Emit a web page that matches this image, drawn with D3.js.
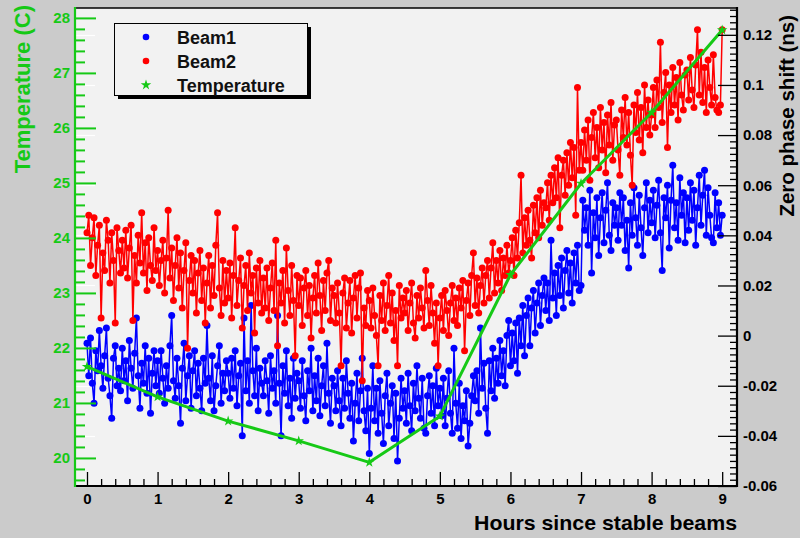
<!DOCTYPE html>
<html>
<head>
<meta charset="utf-8">
<script src="https://cdn.jsdelivr.net/npm/d3@7"></script>
<style>
  html, body { margin: 0; padding: 0; background: #cbcbcb; }
  svg { display: block; font-family: "Liberation Sans", Arial, Helvetica, sans-serif; }
</style>
</head>
<body>
<svg id="chart" width="800" height="538"></svg>
<script>
// Run window: samples are evenly spaced from stable beams (0 h) to 9 h.
const runStartHour = 0;
const runEndHour = 9;

// Zero phase shift per sample (ns)
const beam1 = [
  -0.003,-0.016,-0.001,-0.019,-0.027,-0.006,-0.014,0.002,-0.012,-0.021,-0.008,0.003,-0.017,-0.024,-0.033,-0.009,-0.004,-0.020,-0.013,-0.022,
  -0.005,-0.018,-0.010,-0.026,-0.002,-0.013,-0.021,-0.007,0.007,-0.016,-0.029,-0.011,-0.019,-0.004,-0.023,-0.009,-0.031,-0.015,-0.006,-0.020,
  -0.010,-0.023,-0.006,-0.017,-0.027,-0.012,-0.021,-0.004,0.008,-0.018,-0.025,-0.009,-0.020,-0.035,-0.013,-0.003,-0.026,-0.016,-0.008,-0.029,
  -0.014,-0.006,-0.024,-0.011,-0.021,-0.030,-0.009,-0.019,0.004,-0.017,-0.026,-0.008,-0.030,-0.020,-0.012,-0.004,-0.027,-0.015,-0.022,-0.010,
  -0.015,-0.025,-0.009,-0.021,-0.006,-0.028,-0.016,-0.011,-0.040,0.007,-0.022,-0.010,-0.027,0.012,-0.014,-0.024,-0.005,-0.030,-0.013,-0.019,
  -0.024,-0.010,-0.018,-0.031,-0.008,-0.021,-0.014,-0.027,0.008,-0.019,-0.040,-0.012,-0.023,-0.006,-0.028,-0.017,-0.033,-0.009,-0.025,-0.015,
  -0.018,-0.029,-0.010,-0.024,-0.034,-0.014,-0.022,-0.005,-0.030,-0.016,-0.026,-0.009,-0.032,-0.020,-0.012,-0.028,-0.003,-0.023,-0.035,-0.017,
  -0.020,-0.030,-0.014,-0.026,-0.036,-0.017,-0.029,-0.010,-0.023,-0.033,-0.019,-0.042,-0.027,-0.015,-0.034,-0.022,-0.009,-0.030,-0.038,-0.021,
  -0.047,-0.029,-0.012,-0.034,-0.021,-0.039,-0.018,-0.031,-0.043,-0.024,-0.015,-0.036,-0.027,-0.020,-0.041,-0.023,-0.050,-0.033,-0.017,-0.029,
  -0.022,-0.035,-0.015,-0.028,-0.038,-0.019,-0.030,-0.012,-0.025,-0.033,-0.017,-0.037,-0.039,-0.024,-0.016,-0.031,-0.020,-0.036,-0.013,-0.028,
  -0.021,-0.032,-0.017,-0.036,-0.025,-0.014,-0.031,-0.039,-0.005,-0.027,-0.037,-0.019,-0.041,-0.028,-0.034,-0.022,-0.044,-0.035,-0.024,-0.016,
  -0.026,-0.014,-0.031,0.003,-0.021,-0.011,-0.029,-0.039,-0.010,-0.022,-0.005,-0.025,-0.009,-0.019,-0.002,-0.016,-0.006,-0.020,0.000,0.006,
  -0.012,0.001,-0.010,0.005,-0.015,0.007,-0.004,0.012,-0.008,0.008,0.015,-0.004,0.011,0.018,0.001,0.013,0.021,0.004,0.016,0.023,
  0.010,0.021,0.006,0.038,0.015,0.025,0.008,0.028,0.016,0.031,0.011,0.026,0.034,0.017,0.029,0.013,0.033,0.021,0.036,0.018,
  0.020,0.054,0.042,0.051,0.036,0.058,0.025,0.049,0.039,0.055,0.032,0.047,0.057,0.037,0.050,0.061,0.040,0.034,0.053,0.044,
  0.051,0.038,0.057,0.044,0.055,0.034,0.046,0.027,0.053,0.040,0.059,0.047,0.036,0.056,0.043,0.032,0.051,0.061,0.041,0.054,
  0.045,0.058,0.039,0.052,0.062,0.041,0.026,0.055,0.047,0.060,0.035,0.054,0.068,0.043,0.053,0.038,0.063,0.048,0.057,0.037,
  0.055,0.042,0.061,0.046,0.058,0.036,0.051,0.064,0.044,0.056,0.066,0.040,0.059,0.048,0.039,0.037,0.057,0.043,0.053,0.040,
  0.048
];

const beam2 = [
  0.041,0.048,0.028,0.039,0.047,0.024,0.036,0.044,0.007,0.033,0.026,0.046,0.038,0.021,0.041,0.030,0.005,0.043,0.034,0.025,
  0.038,0.027,0.042,0.023,0.035,0.044,0.006,0.032,0.021,0.040,0.029,0.049,0.025,0.037,0.018,0.039,0.028,0.022,0.043,0.026,
  0.034,0.020,0.030,0.038,0.017,0.031,0.050,0.023,0.035,0.014,0.028,0.039,0.019,0.033,0.011,0.026,0.037,-0.005,0.022,0.032,
  0.017,0.030,0.009,0.025,0.034,0.014,0.027,0.005,0.021,0.032,0.011,0.028,0.016,0.036,0.049,0.019,0.008,0.030,0.013,0.026,
  0.015,0.029,0.007,0.024,0.043,0.012,0.022,0.031,0.003,0.020,0.028,0.010,0.033,0.017,0.024,0.001,0.027,0.013,0.030,0.009,
  0.023,0.011,0.027,0.006,0.019,0.029,0.010,0.038,-0.004,0.021,0.013,0.026,0.005,0.035,0.018,0.008,0.028,0.014,-0.008,0.024,
  0.012,0.023,0.004,0.019,0.026,0.008,0.020,-0.001,0.015,0.024,0.009,0.029,0.016,0.002,0.022,0.010,0.025,0.030,0.006,0.019,
  0.016,0.005,0.021,0.009,-0.012,0.017,0.023,0.003,0.013,0.022,0.001,0.015,0.024,0.007,0.019,0.025,-0.018,0.011,0.004,0.018,
  0.014,0.003,0.019,0.008,0.000,-0.012,0.016,0.006,0.021,0.002,0.012,0.024,0.005,0.017,-0.002,0.010,-0.012,0.020,0.007,0.015,
  0.009,0.018,0.002,0.013,0.021,0.005,-0.001,0.016,0.007,0.019,0.011,0.003,0.026,0.014,0.004,0.020,0.009,-0.003,0.013,-0.012,
  0.007,0.016,0.002,0.018,0.010,0.000,0.013,0.020,0.006,0.015,0.004,0.019,0.011,0.022,-0.006,0.014,0.021,0.008,0.024,0.033,
  0.012,0.023,0.009,0.020,0.027,0.013,0.024,0.030,0.015,0.027,0.037,0.017,0.030,0.021,0.034,0.018,0.031,0.024,0.036,0.025,
  0.030,0.039,0.024,0.042,0.031,0.045,0.064,0.033,0.047,0.036,0.050,0.038,0.031,0.052,0.041,0.055,0.039,0.058,0.044,0.053,
  0.051,0.061,0.046,0.064,0.053,0.067,0.055,0.071,0.043,0.064,0.070,0.056,0.073,0.060,0.077,0.063,0.075,0.048,0.099,0.066,
  0.077,0.066,0.082,0.070,0.086,0.062,0.079,0.089,0.071,0.083,0.067,0.091,0.074,0.085,0.065,0.088,0.076,0.093,0.070,0.084,
  0.086,0.074,0.064,0.090,0.079,0.095,0.076,0.089,0.072,0.060,0.092,0.081,0.097,0.078,0.091,0.073,0.100,0.083,0.094,0.080,
  0.088,0.099,0.083,0.102,0.091,0.117,0.085,0.097,0.105,0.075,0.100,0.089,0.107,0.092,0.103,0.086,0.109,0.096,0.090,0.104,
  0.106,0.094,0.111,0.098,0.091,0.108,0.122,0.096,0.113,0.093,0.107,0.089,0.110,0.099,0.092,0.112,0.095,0.090,0.089,0.092,
  0.122
];

// Hourly temperature readings (°C)
const tempHours = [0, 1, 2, 3, 4, 5, 6, 7, 8, 9];
const tempValues = [21.66, 21.11, 20.67, 20.31, 19.92, 20.76, 23.33, 24.99, 26.28, 27.78];

// Axis labels
const hourTicks = [0, 1, 2, 3, 4, 5, 6, 7, 8, 9];
const tempTicks = [20, 21, 22, 23, 24, 25, 26, 27, 28];
const shiftTicks = [-0.06, -0.04, -0.02, 0, 0.02, 0.04, 0.06, 0.08, 0.1, 0.12];
const shiftTickLabels = ["-0.06", "-0.04", "-0.02", "0", "0.02", "0.04", "0.06", "0.08", "0.1", "0.12"];
const legendLabels = ["Beam1", "Beam2", "Temperature"];

const xTitle = "Hours since stable beams";
const leftTitle = "Temperature (C)";
const rightTitle = "Zero phase shift (ns)";

// Colours
const BLUE = "#0000ff", RED = "#ff0000", GREEN = "#16c916";
const FRAME_BG = "#f2f2f2";

// Frame geometry
const L = 75, R = 737, T = 8, B = 486;

const svg = d3.select("#chart");

const x = d3.scaleLinear().domain([-0.17, 9.21]).range([L, R]);
const yShift = d3.scaleLinear().domain([-0.06, 0.1307]).range([B, T]);
const yTemp = d3.scaleLinear().domain([19.49, 28.18]).range([B, T]);

// Canvas and frame
svg.append("rect").attr("width", 800).attr("height", 538).attr("fill", "#cbcbcb");
svg.append("rect").attr("x", L).attr("y", T).attr("width", R - L).attr("height", B - T).attr("fill", FRAME_BG);

// Frame's own y-axis ticks (white, beam scale) behind the temperature axis
const frameTicks = svg.append("g").attr("stroke", "#ffffff").attr("stroke-width", 1.2);
frameTicks.selectAll("line").data(shiftTicks).join("line")
  .attr("x1", L).attr("x2", L + 20)
  .attr("y1", d => Math.round(yShift(d)) + 0.5).attr("y2", d => Math.round(yShift(d)) + 0.5);

// ---------- Data ----------
function series(values) {
  const n = values.length;
  return values.map((v, i) => ({ t: runStartHour + (runEndHour - runStartHour) * i / (n - 1), v }));
}

const line = d3.line().x(d => x(d.t)).y(d => yShift(d.v));

function drawBeam(values, colour) {
  const pts = series(values);
  const g = svg.append("g");
  g.append("path").datum(pts).attr("d", line)
    .attr("fill", "none").attr("stroke", colour).attr("stroke-width", 1.5).attr("stroke-linejoin", "round");
  g.selectAll("circle").data(pts).join("circle")
    .attr("cx", d => x(d.t)).attr("cy", d => yShift(d.v)).attr("r", 3.5).attr("fill", colour);
}
drawBeam(beam1, BLUE);
drawBeam(beam2, RED);

// Temperature
const tempPts = tempHours.map((h, i) => ({ h, v: tempValues[i] }));
svg.append("path").datum(tempPts)
  .attr("d", d3.line().x(d => x(d.h)).y(d => yTemp(d.v)))
  .attr("fill", "none").attr("stroke", GREEN).attr("stroke-width", 3).attr("stroke-linejoin", "round");
const star = d3.symbol().type(d3.symbolStar).size(34);
svg.append("g").selectAll("path").data(tempPts).join("path")
  .attr("transform", d => `translate(${x(d.h)},${yTemp(d.v)})`)
  .attr("d", star).attr("fill", GREEN);

// ---------- Axes ----------
const labelFont = "bold 15px 'Liberation Sans', Arial, sans-serif";

// Bottom axis (hours)
const xMinor = d3.range(0, 9.21, 0.2).filter(v => Math.abs(v - Math.round(v)) > 1e-6);
const gx = svg.append("g").attr("transform", `translate(0,${B})`);
gx.append("g").call(d3.axisBottom(x).tickValues(xMinor).tickSizeInner(-7).tickSizeOuter(0).tickFormat(""))
  .call(g => g.select(".domain").remove());
gx.append("g").call(d3.axisBottom(x).tickValues(hourTicks).tickSizeInner(-14).tickSizeOuter(0).tickPadding(4).tickFormat(d3.format("d")))
  .call(g => g.select(".domain").remove());
gx.selectAll("line").attr("stroke", "#000").attr("stroke-width", 1.3);
gx.selectAll("text").style("font", labelFont).attr("fill", "#000").attr("dy", "0.9em");
gx.append("line").attr("x1", L).attr("x2", R + 1).attr("y1", 0).attr("y2", 0)
  .attr("stroke", "#000").attr("stroke-width", 2);

// Top frame edge
svg.append("line").attr("x1", L).attr("x2", R + 1).attr("y1", T).attr("y2", T)
  .attr("stroke", "#000").attr("stroke-width", 1.6);

// Right axis (zero phase shift)
const shiftMinor = d3.range(-0.06, 0.1307, 0.0025).filter(v => Math.abs(v / 0.02 - Math.round(v / 0.02)) > 1e-6);
const gr = svg.append("g").attr("transform", `translate(${R},0)`);
gr.append("g").call(d3.axisRight(yShift).tickValues(shiftMinor).tickSizeInner(-7).tickSizeOuter(0).tickFormat(""))
  .call(g => g.select(".domain").remove());
gr.append("g").call(d3.axisRight(yShift).tickValues(shiftTicks).tickSizeInner(-19).tickSizeOuter(0).tickPadding(6)
    .tickFormat((d, i) => shiftTickLabels[i]))
  .call(g => g.select(".domain").remove());
gr.selectAll("line").attr("stroke", "#000").attr("stroke-width", 1.3);
gr.selectAll("text").style("font", labelFont).attr("fill", "#000");
gr.append("line").attr("x1", 0).attr("x2", 0).attr("y1", T - 1).attr("y2", B + 1)
  .attr("stroke", "#000").attr("stroke-width", 2.2);

// Left axis (temperature)
const tempMinor = d3.range(19.6, 28.18, 0.2).filter(v => Math.abs(v - Math.round(v)) > 1e-6);
const gl = svg.append("g").attr("transform", `translate(${L},0)`);
gl.append("g").call(d3.axisLeft(yTemp).tickValues(tempMinor).tickSizeInner(-10).tickSizeOuter(0).tickFormat(""))
  .call(g => g.select(".domain").remove());
gl.append("g").call(d3.axisLeft(yTemp).tickValues(tempTicks).tickSizeInner(-21).tickSizeOuter(0).tickPadding(5).tickFormat(d3.format("d")))
  .call(g => g.select(".domain").remove());
gl.selectAll("line").attr("stroke", GREEN).attr("stroke-width", 2);
gl.selectAll("text").style("font", labelFont).attr("fill", GREEN);
gl.append("line").attr("x1", 0).attr("x2", 0).attr("y1", T - 1).attr("y2", B + 1)
  .attr("stroke", GREEN).attr("stroke-width", 2.2);

// ---------- Titles ----------
svg.append("text").attr("x", R).attr("y", 530).attr("text-anchor", "end")
  .style("font", "bold 21px 'Liberation Sans', Arial, sans-serif").attr("fill", "#000")
  .attr("textLength", 263).attr("lengthAdjust", "spacingAndGlyphs").text(xTitle);

svg.append("text").attr("transform", "translate(30,5) rotate(-90)").attr("text-anchor", "end")
  .style("font", "bold 22px 'Liberation Sans', Arial, sans-serif").attr("fill", GREEN).text(leftTitle);

svg.append("text").attr("transform", "translate(794,15) rotate(-90)").attr("text-anchor", "end")
  .style("font", "bold 20.5px 'Liberation Sans', Arial, sans-serif").attr("fill", "#000").text(rightTitle);

// ---------- Legend ----------
const lg = svg.append("g");
lg.append("rect").attr("x", 118).attr("y", 27).attr("width", 193).attr("height", 72).attr("fill", "#000");
lg.append("rect").attr("x", 114.5).attr("y", 23.5).attr("width", 193).attr("height", 72)
  .attr("fill", FRAME_BG).attr("stroke", "#000").attr("stroke-width", 1);
const entryY = [37, 61, 85];
const entryColour = [BLUE, RED, GREEN];
legendLabels.forEach((label, i) => {
  if (i < 2) {
    lg.append("circle").attr("cx", 146).attr("cy", entryY[i]).attr("r", 3.3).attr("fill", entryColour[i]);
  } else {
    lg.append("path").attr("transform", `translate(146,${entryY[i]})`).attr("d", star).attr("fill", entryColour[i]);
  }
  lg.append("text").attr("x", 177).attr("y", entryY[i] + 6.5)
    .style("font", "bold 18px 'Liberation Sans', Arial, sans-serif").attr("fill", "#111").text(label);
});
</script>
</body>
</html>
